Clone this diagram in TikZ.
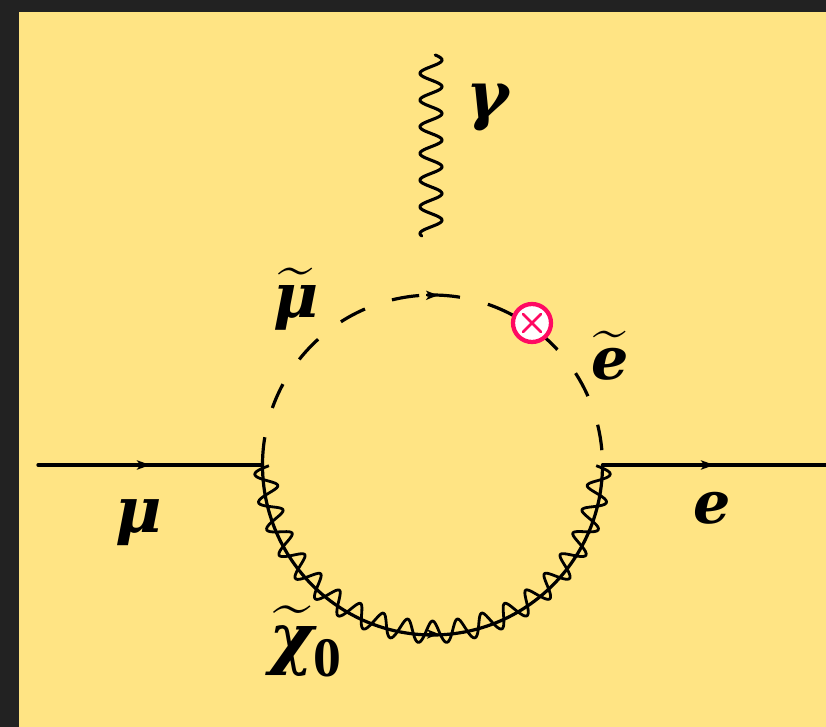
\documentclass[tikz,border=0pt]{standalone}
\usepackage{amsmath,amssymb}
\usepackage{fontspec}
\newfontfamily\labfont{DejaVu Serif}
\newfontfamily\zerofont{Liberation Serif}
\usetikzlibrary{arrows.meta,decorations.markings}
\definecolor{panel}{HTML}{FFE484}
\definecolor{frame}{HTML}{222222}
\definecolor{pinkx}{HTML}{FF0A62}
\newcommand{\lb}[1]{\hbox{\labfont\bfseries\itshape #1}}
\tikzset{
  x=0.75pt,y=-0.75pt,
  fermion/.style={line width=2.5pt,line cap=round,postaction={decorate},
    decoration={markings,mark=at position 0.5 with {\arrow{Stealth[length=10pt,width=7pt,inset=2.5pt]}}}},
  scalar/.style={line width=2.4pt},
  wiggly/.style={line width=2.1pt,line join=round},
  tipstyle/.style={line width=1.2pt,-{Stealth[length=9pt,width=7pt,inset=2.5pt]}},
  lab/.style={inner sep=0pt,outer sep=0pt,text=black,scale=4.4},
  insertion/.style={circle,draw=pinkx,fill=white,line width=3.2pt,minimum size=28.5pt,inner sep=0pt},
}
\begin{document}
\begin{tikzpicture}
\useasboundingbox (0,0) rectangle (826,727);
\fill[frame] (0,0) rectangle (826,727);
\fill[panel] (19,12) rectangle (826,727);
\coordinate (c) at (432.5,465);
\coordinate (in) at (38,465);
\coordinate (v1) at (262.5,465);
\coordinate (v2) at (602.5,465);
\coordinate (out) at (826,465);
\coordinate (topA) at (426,295.3);
\coordinate (topB) at (438,295.3);
\coordinate (botA) at (427,634);
\coordinate (botB) at (439,634);
% fermions
\draw[fermion] (in) -- (v1);
\draw[fermion] (v2) -- (out);
% scalar loop
\foreach \a/\b in {180/170.6,160.4/151.6,141.6/132.3,122.6/113.4,103.8/94.5,91.9/80.7,71/61.7,52/42.7,32.7/23.9,13.7/5}
  \draw[scalar] ([shift={(\a:127.5pt)}]c) arc[start angle=\a,end angle=\b,radius=127.5pt];
\draw[tipstyle] (topA) -- (topB);
% gaugino arc and wave
\draw[scalar] (v1) arc[start angle=180,end angle=360,radius=127.5pt];
\draw[wiggly] plot[variable=\u,domain=-0.3:19.3,samples=400,smooth]
  ({432.5+(167+11*cos(360*\u))*cos(183+9.16*\u)},
   {465-(167+11*cos(360*\u))*sin(183+9.16*\u)});
\draw[tipstyle] (botA) -- (botB);
% photon
\draw[wiggly,line width=2.3pt,line cap=round] plot[variable=\u,domain=0:181,samples=240,smooth]
  ({431+11*sin(13.483*(\u-5)+90)},{55+\u});
% insertion
\node[insertion] (x) at (532,323) {};
\draw[pinkx,line width=2.1pt,line cap=round] (523,314) -- (541,332) (541,314) -- (523,332);
% labels
\node[lab,scale=1.1] (lgamma) at (488,108) {\lb{γ}};
\node[lab,scale=1.05] (lsmu) at (296,299) {$\widetilde{\lb{μ}}$};
\node[lab] (lse) at (610,356) {$\widetilde{\lb{e}}$};
\node[lab,scale=1.08] (lmu) at (139,523) {\lb{μ}};
\node[lab] (le) at (712,508) {\lb{e}};
\node[lab,scale=1.15] (lchi) at (292,641) {$\widetilde{\lb{χ}}$};
\node[lab,scale=0.95] (lzero) at (327,658) {\zerofont\bfseries 0};
\end{tikzpicture}
\end{document}
